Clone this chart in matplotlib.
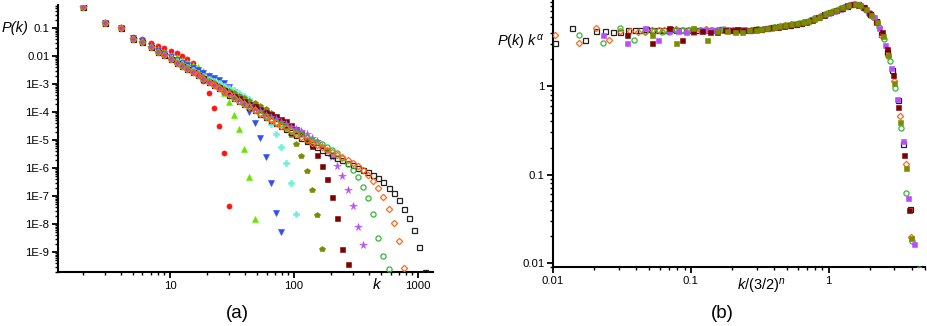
import matplotlib
matplotlib.use("Agg")
import numpy as np
import matplotlib.pyplot as plt
from matplotlib.ticker import FixedLocator, FixedFormatter, LogLocator, NullFormatter

plt.rcParams["font.family"] = ["Liberation Sans", "DejaVu Sans"]
plt.rcParams["mathtext.fontset"] = "custom"
plt.rcParams["mathtext.rm"] = "Liberation Sans"
plt.rcParams["mathtext.it"] = "Liberation Sans:italic"

ALPHA = 2.72  # exponent used for the collapse P(k) k^alpha

# degree bins (log-binned above k = 10)
K = [2, 3, 4, 5, 6, 7, 8, 9, 10.2, 11.4, 12.5, 13.7, 15.3, 16.8, 18.5, 20.6,
     22.7, 24.9, 27.3, 29.9, 32.8, 36.0, 39.5, 43.4, 48.4, 53.2, 59.4, 65.3,
     71.6, 78.6, 86.2, 94.6, 104, 114, 127, 140, 153, 168, 184, 202, 222, 244,
     272, 299, 328, 360, 395, 433, 475, 522, 584, 640, 703, 771, 846, 928,
     1018, 1138]

# generations n = 5..8: P(k)
P_n5 = [0.577, 0.16, 0.112, 0.049, 0.0394, 0.0284, 0.0228, 0.0188, 0.0151,
        0.0125, 0.0100, 0.0078, 0.0058, 0.0026, 0.00123, 4.8e-4, 1.39e-4,
        3.2e-5, 3.4e-6, 4.4e-8]
P_n6 = [0.577, 0.1535, 0.1073, 0.0454, 0.0362, 0.0248, 0.0176, 0.0139,
        0.0111, 0.00895, 0.00737, 0.00609, 0.00485, 0.0039, 0.00302, 0.00204,
        0.00136, 8.8e-4, 4.9e-4, 2.33e-4, 8.0e-5, 2.41e-5, 4.65e-6, 4.77e-7,
        1.51e-8]
P_n7 = [0.577, 0.1535, 0.1035, 0.0422, 0.033, 0.0224, 0.01554, 0.01186,
        0.00902, 0.00706, 0.00576, 0.00475, 0.00375, 0.0031, 0.00254, 0.0020,
        0.00165, 0.00135, 0.00106, 7.7e-4, 5.3e-4, 3.5e-4, 2.06e-4, 1.0e-4,
        3.95e-5, 1.21e-5, 2.47e-6, 2.91e-7, 2.47e-8, 5.2e-9]
P_n8 = [0.577, 0.1535, 0.1035, 0.0418, 0.0318, 0.0209, 0.0143, 0.0108,
        0.00818, 0.00636, 0.00504, 0.00401, 0.00305, 0.00244, 0.00199,
        0.00156, 0.00128, 0.00106, 8.75e-4, 7.15e-4, 5.89e-4, 4.85e-4,
        3.83e-4, 2.89e-4, 1.89e-4, 1.21e-4, 6.7e-5, 3.73e-5, 1.64e-5,
        5.62e-6, 1.51e-6, 2.91e-7, 2.28e-8]

# generations n = 9..14: P(k) k^alpha
F_n9 = [3.8, 3.04, 4.49, 3.33, 4.15, 4.15, 4.04, 4.1,
        4.25, 4.33, 4.44, 4.52, 4.62, 4.72, 4.84, 4.98, 5.1, 5.25, 5.45, 5.78,
        6.1, 6.45, 6.85, 7.22, 7.75, 8.2, 8.45, 8.15, 7.35, 6.35,
        5.3, 3.67, 2.24, 1.07, 0.395, 0.117, 0.019, 0.00145]
F_n10 = [3.8, 3.04, 4.49, 3.33, 4.15, 4.15, 4.04, 4.1,
         4.25, 4.3, 4.38, 4.33, 4.36, 4.37, 4.43, 4.52, 4.61, 4.71, 4.82, 4.94,
         5.05, 5.18, 5.37, 5.65, 6.05, 6.4, 6.85, 7.25, 7.7, 8.15,
         8.42, 8.3, 7.75, 6.75, 5.3, 4.05, 2.6, 1.33, 0.58, 0.165,
         0.04, 0.004, 0.00156]
F_n11 = [3.8, 3.04, 4.49, 3.33, 4.15, 4.15, 4.04, 4.1,
         4.25, 4.3, 4.36, 4.33, 4.38, 4.35, 4.32, 4.37, 4.35, 4.36, 4.42, 4.5,
         4.58, 4.67, 4.78, 4.9, 5.03, 5.15, 5.38, 5.67, 5.98, 6.32,
         6.73, 7.1, 7.5, 7.97, 8.42, 8.4, 7.85, 6.9, 5.97, 4.49,
         2.9, 1.58, 0.71, 0.241, 0.0538, 0.0164]
F_n12 = [3.8, 3.04, 4.49, 3.33, 4.15, 4.15, 4.04, 4.1,
         4.25, 4.3, 4.35, 4.38, 4.33, 4.36, 4.35, 4.34, 4.37, 4.35, 4.33, 4.36,
         4.35, 4.36, 4.4, 4.47, 4.56, 4.65, 4.77, 4.9, 5.01, 5.13,
         5.3, 5.55, 5.88, 6.2, 6.67, 7.05, 7.45, 7.9, 8.32, 8.45,
         8.1, 7.25, 6.0, 4.6, 3.37, 1.91, 0.94, 0.338, 0.0614, 0.0179,
         0.0085]
F_n13 = [3.8, 3.04, 4.49, 3.33, 4.15, 4.15, 4.04, 4.1,
         4.25, 4.3, 4.36, 4.34, 4.38, 4.35, 4.33, 4.36, 4.35, 4.37, 4.34, 4.35,
         4.36, 4.35, 4.33, 4.36, 4.35, 4.36, 4.4, 4.47, 4.55, 4.64,
         4.74, 4.86, 4.97, 5.09, 5.28, 5.5, 5.82, 6.15, 6.52, 6.9,
         7.28, 7.73, 8.25, 8.45, 8.2, 7.45, 6.4, 5.1, 3.65, 2.2,
         1.15, 0.458, 0.132, 0.0195]
F_n14 = [3.8, 3.04, 4.49, 3.33, 4.15, 4.15, 4.04, 4.1,
         4.25, 4.3, 4.35, 4.37, 4.33, 4.36, 4.35, 4.38, 4.34, 4.35, 4.36, 4.33,
         4.35, 4.36, 4.34, 4.35, 4.37, 4.35, 4.33, 4.36, 4.35, 4.36,
         4.38, 4.44, 4.52, 4.6, 4.72, 4.84, 4.95, 5.06, 5.2, 5.4,
         5.68, 6.02, 6.45, 6.85, 7.2, 7.65, 8.1, 8.42, 8.4, 7.8,
         6.6, 5.4, 3.85, 2.45, 1.52, 0.695, 0.221, 0.0405]

# (values, marker in a, colour)
DIRECT = [
    (P_n5, "o", "#ff1414"),
    (P_n6, "^", "#66e600"),
    (P_n7, "v", "#2f4ff0"),
    (P_n8, "P", "#6df0d8"),
]
# (n, values, marker in a, marker in b, colour, filled)
COLLAPSE = [
    (9, F_n9, "p", "s", "#7a8c00", True),
    (10, F_n10, "s", "s", "#800000", True),
    (11, F_n11, "*", "s", "#b84dff", True),
    (14, F_n14, "s", "s", "#222222", False),
    (12, F_n12, "o", "o", "#33b833", False),
    (13, F_n13, "D", "D", "#ff6a1a", False),
]
SIZES = {"o": 3.7, "^": 4.1, "v": 4.1, "P": 4.3, "p": 4.3, "s": 3.6,
         "*": 5.4, "D": 3.2}

fig = plt.figure(figsize=(9.27, 3.26), dpi=100)
ax_a = fig.add_axes([58 / 927, 54 / 326, 375 / 927, 267 / 326])
ax_b = fig.add_axes([553 / 927, 59 / 326, 372 / 927, 267 / 326])


def _mark(ax, x, y, m, color, filled, z):
    if filled:
        ax.plot(x, y, ls="none", marker=m, ms=SIZES[m], mfc=color, mec=color,
                mew=0.4, zorder=z)
    else:
        ax.plot(x, y, ls="none", marker=m, ms=SIZES[m], mfc="none", mec=color,
                mew=0.9, zorder=z)


k_arr = np.array(K)
for i, (vals, m, c) in enumerate(DIRECT):
    _mark(ax_a, k_arr[:len(vals)], vals, m, c, True, 3 + i)

for i, (n, f, ma, mb, c, filled) in enumerate(COLLAPSE):
    kk = k_arr[:len(f)]
    f = np.array(f)
    _mark(ax_a, kk, f / kk ** ALPHA, ma, c, filled, 8 + i)

for i, (n, f, ma, mb, c, filled) in enumerate(
        [COLLAPSE[3], COLLAPSE[5], COLLAPSE[4], COLLAPSE[2], COLLAPSE[1], COLLAPSE[0]]):
    kk = k_arr[:len(f)]
    _mark(ax_b, kk / 1.5 ** n, f, mb, c, filled, 3 + i)


def _style(ax):
    ax.set_xscale("log")
    ax.set_yscale("log")
    for s in ("top", "right"):
        ax.spines[s].set_visible(False)
    for s in ("left", "bottom"):
        ax.spines[s].set_linewidth(1.5)
    ax.tick_params(which="major", direction="out", length=4.2, width=1.3,
                   labelsize=8.2, pad=2)
    ax.tick_params(which="minor", direction="out", length=2.3, width=1.0)
    ax.xaxis.set_minor_locator(LogLocator(base=10, subs=np.arange(2, 10), numticks=20))
    ax.yaxis.set_minor_locator(LogLocator(base=10, subs=np.arange(2, 10), numticks=20))
    ax.xaxis.set_minor_formatter(NullFormatter())
    ax.yaxis.set_minor_formatter(NullFormatter())


_style(ax_a)
ax_a.set_xlim(1.25, 1320)
ax_a.set_ylim(1.93e-10, 0.66)
ax_a.xaxis.set_major_locator(FixedLocator([10, 100, 1000]))
ax_a.xaxis.set_major_formatter(FixedFormatter(["10", "100", "1000"]))
yt = [10.0 ** -e for e in range(1, 10)]
ax_a.yaxis.set_major_locator(FixedLocator(yt))
ax_a.yaxis.set_major_formatter(FixedFormatter(
    ["0.1", "0.01"] + ["1E-%d" % e for e in range(3, 10)]))

_style(ax_b)
ax_b.set_xlim(0.01, 5)
ax_b.set_ylim(0.009, 9.4)
ax_b.xaxis.set_major_locator(FixedLocator([0.01, 0.1, 1]))
ax_b.xaxis.set_major_formatter(FixedFormatter(["0.01", "0.1", "1"]))
ax_b.yaxis.set_major_locator(FixedLocator([0.01, 0.1, 1]))
ax_b.yaxis.set_major_formatter(FixedFormatter(["0.01", "0.1", "1"]))

fig.text(2 / 927, 1 - 28 / 326, "P(k)", ha="left", va="center", fontsize=10.5,
         style="italic")
fig.text(377 / 927, 1 - 285 / 326, "k", ha="center", va="center", fontsize=11,
         style="italic")
fig.text(237 / 927, 1 - 313 / 326, "(a)", ha="center", va="center", fontsize=13.5)
fig.text(722 / 927, 1 - 313 / 326, "(b)", ha="center", va="center", fontsize=13.5)
fig.text(497 / 927, 1 - 42 / 326, r"$P(k)\ k^{\alpha}$", ha="left", va="center",
         fontsize=10.5)
fig.text(737 / 927, 1 - 287 / 326, r"$k/(3/2)^{n}$", ha="left", va="center",
         fontsize=10.5)

fig.savefig("out.png", dpi=100)
